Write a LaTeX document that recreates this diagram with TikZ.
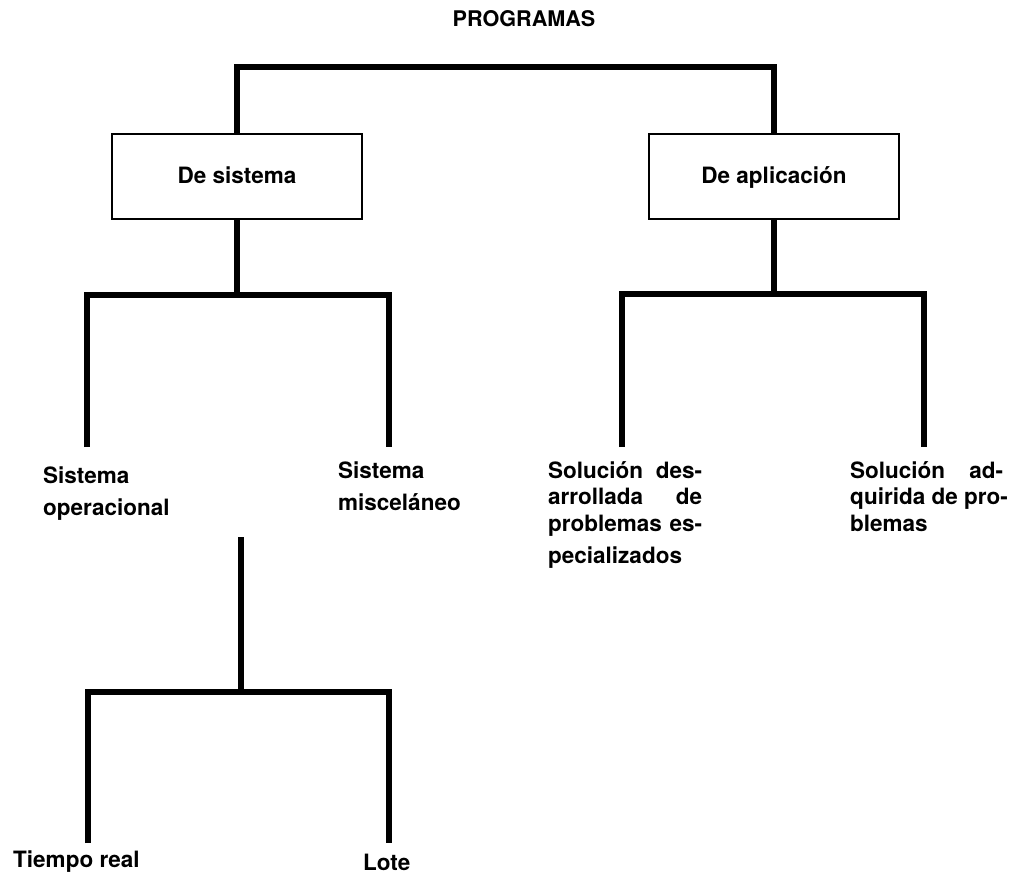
\documentclass[tikz,border=0pt]{standalone}
\usepackage{fontspec}
\setmainfont{TeX Gyre Heros}
\usetikzlibrary{positioning}

\newcommand{\justline}[2][154pt]{\makebox[#1][s]{\spaceskip=.278em plus 1fil\relax #2}}

\tikzset{
  trunk/.style={line width=5.5pt},
  group/.style={draw, line width=1.6pt, minimum width=250pt, minimum height=85pt,
                text depth=3pt, font=\bfseries\fontsize{22.5}{26}\selectfont},
  leaf/.style={anchor=base west, inner sep=0pt, align=left,
               font=\bfseries\fontsize{22.5}{32}\selectfont},
  tight/.style={font=\bfseries\fontsize{22.5}{26.5}\selectfont}
}

\begin{document}
\begin{tikzpicture}[x=1pt, y=-1pt, node distance=537pt, on grid]
\useasboundingbox (0,0) rectangle (1018,875);

\node[anchor=base, font=\bfseries\fontsize{21.6}{26}\selectfont] (title) at (524,27) {PROGRAMAS};

\node[group] (sis) at (237,176.5) {De sistema};
\node[group] (apl) [right=of sis] {De aplicación};

% leaves
\node[leaf, text width=140pt] (op)   at (43,483)  {Sistema\\operacional};
\node[leaf, text width=140pt] (misc) at (338,478) {Sistema\\misceláneo};
\node[leaf, tight, text width=154pt] (desa) at (548,478)
  {\justline{Solución des-}\\\justline{arrollada de}\\\justline{problemas es-}\\[6pt]pecializados};
\node[leaf, tight, text width=154pt] (adq) at (850,478)
  {\justline[153pt]{Solución ad-}\\\justline[153pt]{quirida de pro-}\\blemas};
\node[leaf] (treal) at (13,867)  {Tiempo real};
\node[leaf] (lote)  at (363,870) {Lote};

% forks and leg ends
\coordinate (topbar)   at (0,67);
\coordinate (sisfork)  at (237,295);
\coordinate (aplfork)  at (774,294);
\coordinate (opleg)    at (87,447);
\coordinate (miscleg)  at (389,447);
\coordinate (desaleg)  at (622,447);
\coordinate (adqleg)   at (924,447);
\coordinate (opstem)   at (241,537);
\coordinate (opfork)   at (241,692);
\coordinate (trealleg) at (88,843);
\coordinate (loteleg)  at (389,843);

\draw[trunk] (sis.north) |- (topbar -| apl) -- (apl.north);
\draw[trunk] (sis.south) -- (sisfork);
\draw[trunk] (opleg) |- (sisfork) -| (miscleg);
\draw[trunk] (apl.south) -- (aplfork);
\draw[trunk] (desaleg) |- (aplfork) -| (adqleg);
\draw[trunk] (opstem) -- (opfork);
\draw[trunk] (trealleg) |- (opfork) -| (loteleg);
\end{tikzpicture}
\end{document}
